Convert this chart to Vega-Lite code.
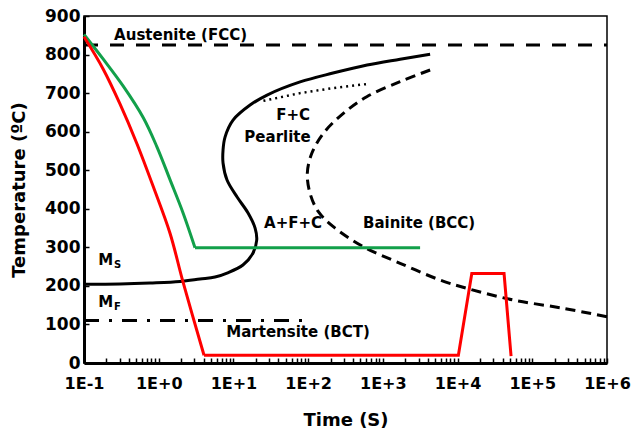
{
  "$schema": "https://vega.github.io/schema/vega-lite/v6.json",
  "width": 523,
  "height": 347,
  "autosize": {"type": "none"},
  "padding": {"left": 84, "top": 16, "right": 28, "bottom": 71},
  "background": "white",
  "config": {
    "view": {"stroke": "black", "strokeWidth": 1.5},
    "font": "DejaVu Sans",
    "axis": {
      "grid": false,
      "labelFont": "DejaVu Sans",
      "labelFontWeight": "bold",
      "labelFontSize": 16,
      "labelColor": "black",
      "titleFont": "DejaVu Sans",
      "titleFontWeight": "bold",
      "titleFontSize": 18,
      "titleColor": "black",
      "domainColor": "black",
      "domainWidth": 3,
      "tickColor": "black",
      "tickWidth": 1.5,
      "tickSize": -5
    }
  },
  "datasets": {
    "curves": [
      {"curve": "austenite", "i": 0, "t": 0.1, "temp": 825},
      {"curve": "austenite", "i": 1, "t": 1000000, "temp": 825},

      {"curve": "mf", "i": 0, "t": 0.1, "temp": 110},
      {"curve": "mf", "i": 1, "t": 90, "temp": 110},

      {"curve": "red_quench", "i": 0, "t": 0.1, "temp": 846},
      {"curve": "red_quench", "i": 1, "t": 0.181, "temp": 762},
      {"curve": "red_quench", "i": 2, "t": 0.303, "temp": 672},
      {"curve": "red_quench", "i": 3, "t": 0.508, "temp": 570},
      {"curve": "red_quench", "i": 4, "t": 0.847, "temp": 457},
      {"curve": "red_quench", "i": 5, "t": 1.42, "temp": 336},
      {"curve": "red_quench", "i": 6, "t": 2.095, "temp": 213},
      {"curve": "red_quench", "i": 7, "t": 4.04, "temp": 20},
      {"curve": "red_hold", "i": 0, "t": 4.04, "temp": 20},
      {"curve": "red_hold", "i": 1, "t": 10250, "temp": 20},
      {"curve": "red_hold", "i": 2, "t": 15500, "temp": 232},
      {"curve": "red_hold", "i": 3, "t": 41900, "temp": 232},
      {"curve": "red_hold", "i": 4, "t": 52000, "temp": 18},

      {"curve": "green_quench", "i": 0, "t": 0.1, "temp": 852},
      {"curve": "green_quench", "i": 1, "t": 0.181, "temp": 788},
      {"curve": "green_quench", "i": 2, "t": 0.335, "temp": 718},
      {"curve": "green_quench", "i": 3, "t": 0.622, "temp": 636},
      {"curve": "green_quench", "i": 4, "t": 0.94, "temp": 562},
      {"curve": "green_quench", "i": 5, "t": 1.42, "temp": 475},
      {"curve": "green_quench", "i": 6, "t": 2.13, "temp": 388},
      {"curve": "green_quench", "i": 7, "t": 3.06, "temp": 299},
      {"curve": "green_hold", "i": 0, "t": 3.06, "temp": 299},
      {"curve": "green_hold", "i": 1, "t": 3150, "temp": 299},

      {"curve": "pearlite", "i": 0, "t": 0.1, "temp": 204},
      {"curve": "pearlite", "i": 1, "t": 0.303, "temp": 205},
      {"curve": "pearlite", "i": 2, "t": 0.765, "temp": 207.5},
      {"curve": "pearlite", "i": 3, "t": 1.93, "temp": 211.4},
      {"curve": "pearlite", "i": 4, "t": 3.57, "temp": 217.9},
      {"curve": "pearlite", "i": 5, "t": 5.67, "temp": 223},
      {"curve": "pearlite", "i": 6, "t": 8.21, "temp": 233.4},
      {"curve": "pearlite", "i": 7, "t": 13.4, "temp": 254.2},
      {"curve": "pearlite", "i": 8, "t": 18.3, "temp": 285.3},
      {"curve": "pearlite", "i": 9, "t": 20.5, "temp": 319},
      {"curve": "pearlite", "i": 10, "t": 19.5, "temp": 350},
      {"curve": "pearlite", "i": 11, "t": 15.7, "temp": 389},
      {"curve": "pearlite", "i": 12, "t": 11.2, "temp": 430.5},
      {"curve": "pearlite", "i": 13, "t": 8.21, "temp": 474.6},
      {"curve": "pearlite", "i": 14, "t": 7.26, "temp": 518.7},
      {"curve": "pearlite", "i": 15, "t": 7.26, "temp": 552.4},
      {"curve": "pearlite", "i": 16, "t": 7.72, "temp": 586},
      {"curve": "pearlite", "i": 17, "t": 9.88, "temp": 630},
      {"curve": "pearlite", "i": 18, "t": 16.7, "temp": 669},
      {"curve": "pearlite", "i": 19, "t": 28.2, "temp": 695},
      {"curve": "pearlite", "i": 20, "t": 78, "temp": 729},
      {"curve": "pearlite", "i": 21, "t": 215, "temp": 752},
      {"curve": "pearlite", "i": 22, "t": 615, "temp": 773},
      {"curve": "pearlite", "i": 23, "t": 1700, "temp": 788},
      {"curve": "pearlite", "i": 24, "t": 4290, "temp": 801},

      {"curve": "bainite", "i": 0, "t": 4290, "temp": 760},
      {"curve": "bainite", "i": 1, "t": 1700, "temp": 729.6},
      {"curve": "bainite", "i": 2, "t": 609, "temp": 690.7},
      {"curve": "bainite", "i": 3, "t": 296, "temp": 647.6},
      {"curve": "bainite", "i": 4, "t": 160, "temp": 595.8},
      {"curve": "bainite", "i": 5, "t": 112, "temp": 543.9},
      {"curve": "bainite", "i": 6, "t": 97.5, "temp": 492.8},
      {"curve": "bainite", "i": 7, "t": 106, "temp": 440},
      {"curve": "bainite", "i": 8, "t": 137, "temp": 392.4},
      {"curve": "bainite", "i": 9, "t": 217, "temp": 353.5},
      {"curve": "bainite", "i": 10, "t": 548, "temp": 301.6},
      {"curve": "bainite", "i": 11, "t": 1700, "temp": 258.6},
      {"curve": "bainite", "i": 12, "t": 5830, "temp": 215.3},
      {"curve": "bainite", "i": 13, "t": 13300, "temp": 193.7},
      {"curve": "bainite", "i": 14, "t": 55800, "temp": 163.4},
      {"curve": "bainite", "i": 15, "t": 261000, "temp": 141.9},
      {"curve": "bainite", "i": 16, "t": 1000000, "temp": 120},

      {"curve": "fc", "i": 0, "t": 25.2, "temp": 680},
      {"curve": "fc", "i": 1, "t": 78, "temp": 700},
      {"curve": "fc", "i": 2, "t": 215, "temp": 713},
      {"curve": "fc", "i": 3, "t": 640, "temp": 724}
    ],
    "labels": [
      {"kind": "main", "text": "Austenite (FCC)", "t": 1.96, "temp": 838},
      {"kind": "main", "text": "F+C", "t": 62.8, "temp": 630},
      {"kind": "main", "text": "Pearlite", "t": 38.9, "temp": 574},
      {"kind": "main", "text": "A+F+C", "t": 62.8, "temp": 351},
      {"kind": "main", "text": "Bainite (BCC)", "t": 3055, "temp": 351},
      {"kind": "main", "text": "Martensite (BCT)", "t": 73.3, "temp": 66.7},
      {"kind": "symbol", "text": "M", "t": 0.155, "temp": 254},
      {"kind": "symbol", "text": "M", "t": 0.155, "temp": 146},
      {"kind": "sub", "text": "S", "t": 0.252, "temp": 245.6},
      {"kind": "sub", "text": "F", "t": 0.252, "temp": 137.5}
    ]
  },
  "encoding": {
    "x": {
      "field": "t",
      "type": "quantitative",
      "scale": {"type": "log", "domain": [0.1, 1000000], "nice": false},
      "axis": {
        "title": "Time (S)",
        "values": [0.1, 0.2, 0.3, 0.4, 0.5, 0.6, 0.7, 0.8, 0.9,
                   1, 2, 3, 4, 5, 6, 7, 8, 9,
                   10, 20, 30, 40, 50, 60, 70, 80, 90,
                   100, 200, 300, 400, 500, 600, 700, 800, 900,
                   1000, 2000, 3000, 4000, 5000, 6000, 7000, 8000, 9000,
                   10000, 20000, 30000, 40000, 50000, 60000, 70000, 80000, 90000,
                   100000, 200000, 300000, 400000, 500000, 600000, 700000, 800000, 900000,
                   1000000],
        "labelExpr": "abs(log(datum.value)/LN10 - round(log(datum.value)/LN10)) < 0.001 ? ('1E' + (round(log(datum.value)/LN10) >= 0 ? '+' : '') + round(log(datum.value)/LN10)) : ''",
        "labelOverlap": false,
        "labelFlush": false,
        "labelPadding": 17,
        "titlePadding": 20
      }
    },
    "y": {
      "field": "temp",
      "type": "quantitative",
      "scale": {"domain": [0, 900], "nice": false, "zero": true},
      "axis": {
        "title": "Temperature (ºC)",
        "values": [0, 100, 200, 300, 400, 500, 600, 700, 800, 900],
        "labelFontSize": 17,
        "labelPadding": 9,
        "titlePadding": 16
      }
    }
  },
  "layer": [
    {
      "data": {"name": "curves"},
      "transform": [{"filter": "datum.curve === 'austenite'"}],
      "mark": {"type": "line", "color": "black", "strokeWidth": 3, "strokeDash": [14, 12]},
      "encoding": {"order": {"field": "i", "type": "quantitative"}}
    },
    {
      "data": {"name": "curves"},
      "transform": [{"filter": "datum.curve === 'mf'"}],
      "mark": {"type": "line", "color": "black", "strokeWidth": 3, "strokeDash": [15, 10, 3, 10]},
      "encoding": {"order": {"field": "i", "type": "quantitative"}}
    },
    {
      "data": {"name": "curves"},
      "transform": [{"filter": "datum.curve === 'fc'"}],
      "mark": {"type": "line", "color": "black", "strokeWidth": 2.5, "strokeDash": [2, 4]},
      "encoding": {"order": {"field": "i", "type": "quantitative"}}
    },
    {
      "data": {"name": "curves"},
      "transform": [{"filter": "datum.curve === 'bainite'"}],
      "mark": {"type": "line", "color": "black", "strokeWidth": 3, "strokeDash": [10, 6], "interpolate": "catmull-rom"},
      "encoding": {"order": {"field": "i", "type": "quantitative"}}
    },
    {
      "data": {"name": "curves"},
      "transform": [{"filter": "datum.curve === 'pearlite'"}],
      "mark": {"type": "line", "color": "black", "strokeWidth": 3, "interpolate": "catmull-rom"},
      "encoding": {"order": {"field": "i", "type": "quantitative"}}
    },
    {
      "data": {"name": "curves"},
      "transform": [{"filter": "datum.curve === 'green_quench'"}],
      "mark": {"type": "line", "color": "#12a04a", "strokeWidth": 3, "interpolate": "catmull-rom"},
      "encoding": {"order": {"field": "i", "type": "quantitative"}}
    },
    {
      "data": {"name": "curves"},
      "transform": [{"filter": "datum.curve === 'green_hold'"}],
      "mark": {"type": "line", "color": "#12a04a", "strokeWidth": 3},
      "encoding": {"order": {"field": "i", "type": "quantitative"}}
    },
    {
      "data": {"name": "curves"},
      "transform": [{"filter": "datum.curve === 'red_quench'"}],
      "mark": {"type": "line", "color": "#ff0000", "strokeWidth": 3, "interpolate": "catmull-rom"},
      "encoding": {"order": {"field": "i", "type": "quantitative"}}
    },
    {
      "data": {"name": "curves"},
      "transform": [{"filter": "datum.curve === 'red_hold'"}],
      "mark": {"type": "line", "color": "#ff0000", "strokeWidth": 3},
      "encoding": {"order": {"field": "i", "type": "quantitative"}}
    },
    {
      "data": {"name": "labels"},
      "transform": [{"filter": "datum.kind === 'main'"}],
      "mark": {"type": "text", "font": "DejaVu Sans", "fontWeight": "bold", "fontSize": 15, "color": "black", "align": "center", "baseline": "alphabetic"},
      "encoding": {"text": {"field": "text"}}
    },
    {
      "data": {"name": "labels"},
      "transform": [{"filter": "datum.kind === 'symbol'"}],
      "mark": {"type": "text", "font": "DejaVu Sans", "fontWeight": "bold", "fontSize": 15, "color": "black", "align": "left", "baseline": "alphabetic"},
      "encoding": {"text": {"field": "text"}}
    },
    {
      "data": {"name": "labels"},
      "transform": [{"filter": "datum.kind === 'sub'"}],
      "mark": {"type": "text", "font": "DejaVu Sans", "fontWeight": "bold", "fontSize": 10, "color": "black", "align": "left", "baseline": "alphabetic"},
      "encoding": {"text": {"field": "text"}}
    }
  ]
}
